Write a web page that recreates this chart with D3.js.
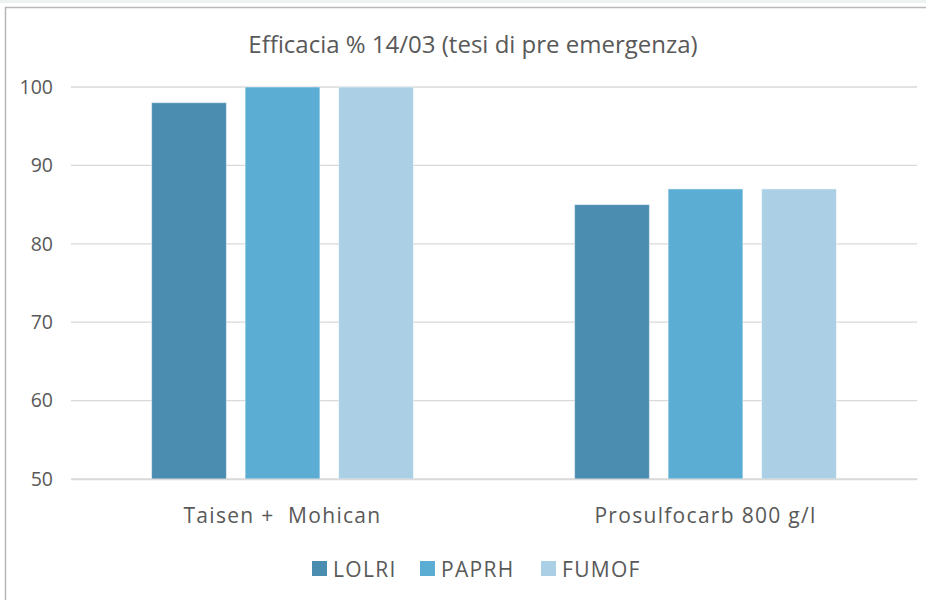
<!DOCTYPE html>
<html><head><meta charset="utf-8">
<script src="https://cdn.jsdelivr.net/npm/d3@7"></script>
<style>body{margin:0;background:#fff;} text{font-family:"Open Sans","Liberation Sans",sans-serif;fill:#595959;white-space:pre;}</style>
</head><body>
<svg id="c" width="926" height="600"></svg>
<script>
const categories = ["Taisen +  Mohican", "Prosulfocarb 800 g/l"];
const seriesNames = ["LOLRI", "PAPRH", "FUMOF"];
const LOLRI = [98, 85];
const PAPRH = [100, 87];
const FUMOF = [100, 87];
const yTicks = [50, 60, 70, 80, 90, 100];
const colors = ["#4a8db0", "#5badd4", "#abcfe4"];
const seriesValues = [LOLRI, PAPRH, FUMOF];

const svg = d3.select("#c");
svg.append("rect").attr("x",0).attr("y",0).attr("width",926).attr("height",3).attr("fill","#eef2f2");
svg.append("rect").attr("x",5.5).attr("y",7.5).attr("width",930).attr("height",600).attr("fill","#fff").attr("stroke","#b7b7b7").attr("stroke-width",1.5);

const x0 = d3.scaleBand().domain(categories).range([71, 917]).paddingInner(0).paddingOuter(0);
const x1 = d3.scaleBand().domain(seriesNames).range([0, x0.bandwidth()]).paddingInner(0.2).paddingOuter(0.862);
const y = d3.scaleLinear().domain([50, 100]).range([479, 87]);

const grid = svg.append("g");
grid.selectAll("line").data(yTicks).join("line")
  .attr("x1",71).attr("x2",917).attr("y1",d=>y(d)).attr("y2",d=>y(d))
  .attr("stroke","#d9d9d9").attr("stroke-width",1.3);

const yAxis = svg.append("g").attr("transform","translate(71,0)")
  .call(d3.axisLeft(y).tickValues(yTicks).tickSize(0).tickPadding(18));
yAxis.select(".domain").remove();
yAxis.selectAll("text").style("font-size","19.5px").style("fill","#595959");

const groups = svg.append("g").selectAll("g").data(categories).join("g")
  .attr("transform", d=>`translate(${x0(d)},0)`);
groups.selectAll("rect").data((d,i)=>seriesNames.map((s,j)=>({s, v: seriesValues[j][i], c: colors[j]})))
  .join("rect")
  .attr("x", d=>x1(d.s)).attr("width", x1.bandwidth())
  .attr("y", d=>y(d.v)).attr("height", d=>y(50)-y(d.v))
  .attr("fill", d=>d.c).attr("stroke","#ffffff").attr("stroke-opacity",0.5).attr("stroke-width",1);

const xAxis = svg.append("g").attr("transform","translate(0,479)")
  .call(d3.axisBottom(x0).tickSize(0).tickPadding(29));
xAxis.select(".domain").attr("stroke","#d9d9d9").attr("stroke-width",1.3);
xAxis.selectAll("text").style("font-size","21px").style("fill","#595959").style("letter-spacing","1.3px");

svg.append("text").attr("x",473).attr("y",53).attr("text-anchor","middle")
  .style("font-size","24px").text("Efficacia % 14/03 (tesi di pre emergenza)");

const legX = [312, 420, 541];
const leg = svg.append("g").selectAll("g").data(seriesNames).join("g")
  .attr("transform",(d,i)=>`translate(${legX[i]},561)`);
leg.append("rect").attr("width",15).attr("height",15).attr("fill",(d,i)=>colors[i]);
leg.append("text").attr("x",21).attr("y",16).style("font-size","21px").style("letter-spacing","1.3px").text(d=>d);
</script>
</body></html>
